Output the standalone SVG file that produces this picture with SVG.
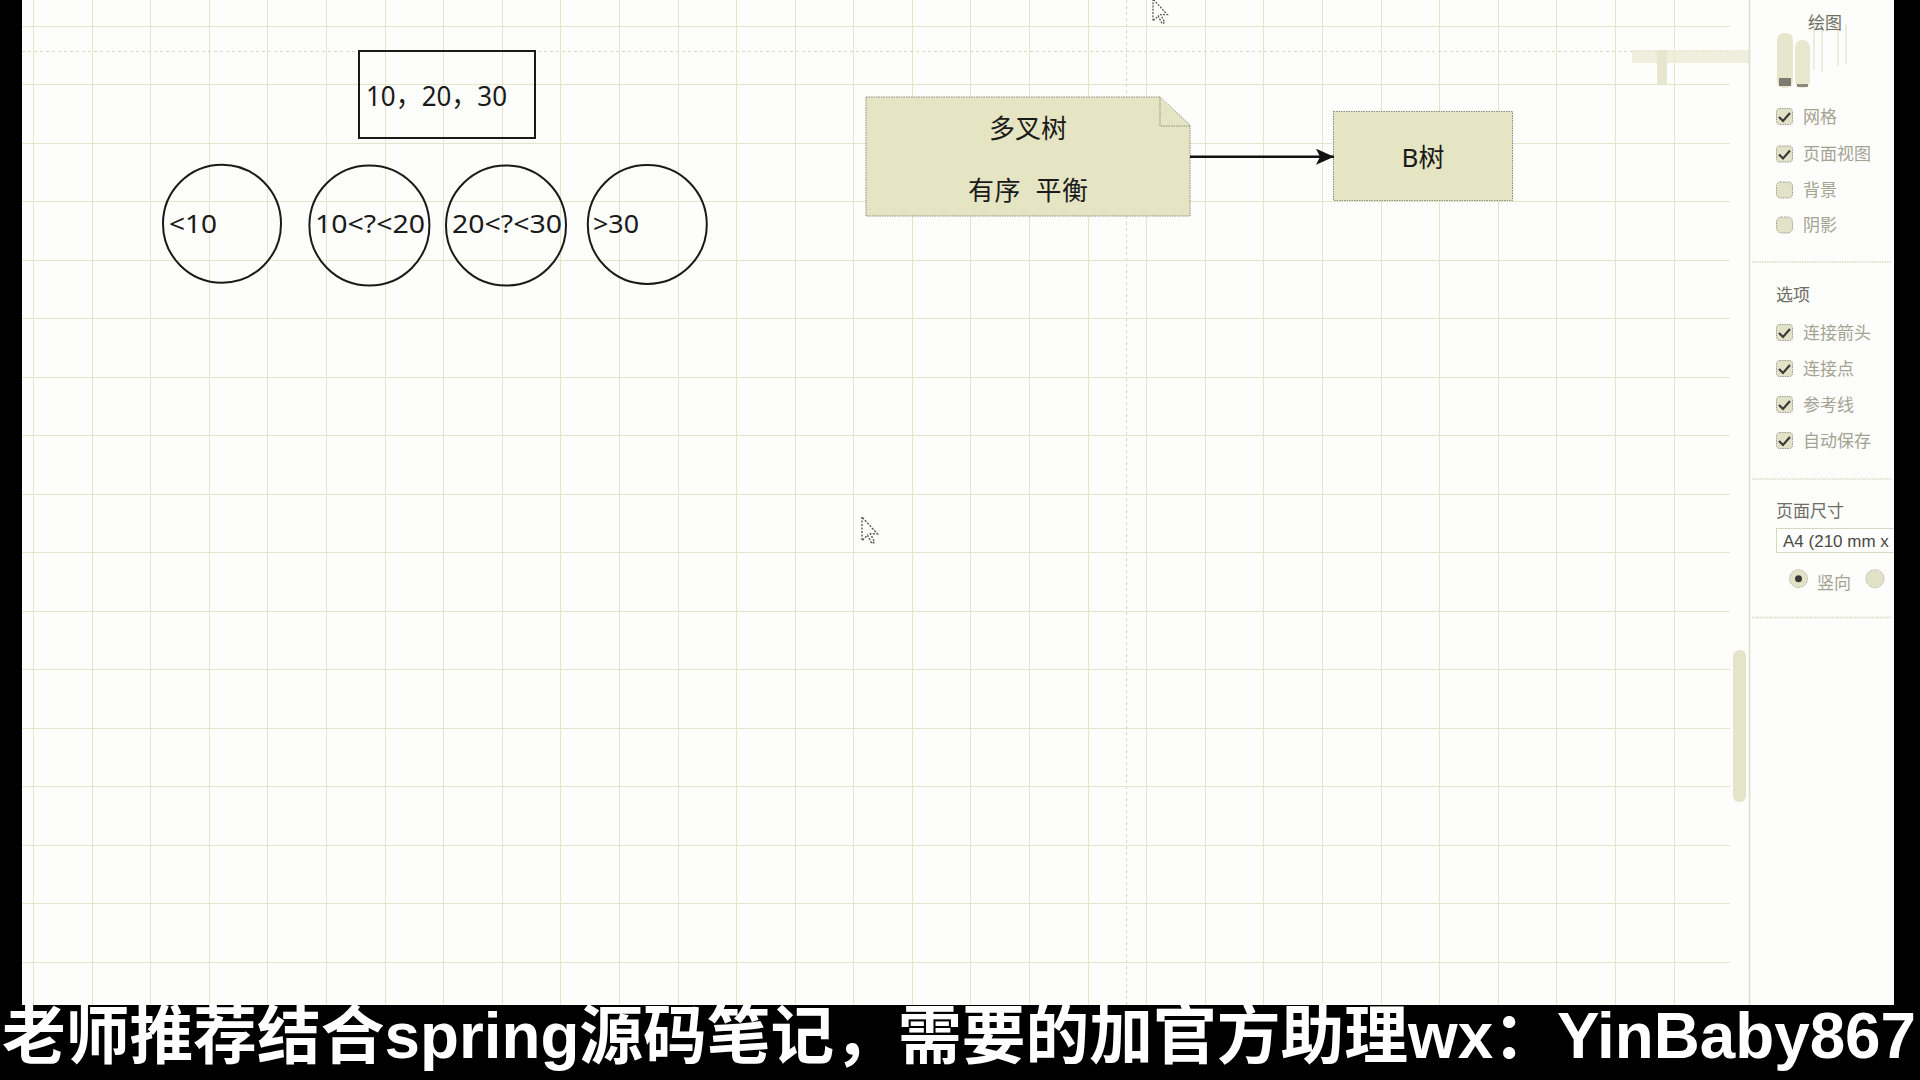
<svg xmlns="http://www.w3.org/2000/svg" width="1920" height="1080" viewBox="0 0 1920 1080">
<style>
.grid{stroke:#e4e4c8;stroke-width:1;fill:none}
.pb{stroke:#d9d9bf;stroke-width:1;stroke-dasharray:3 3;fill:none}
.shape{fill:none;stroke:#1a1a1a;stroke-width:2}
.lbl{font-family:"Noto Sans","Noto Sans CJK SC",sans-serif;fill:#1a1a1a}
.note{fill:#e5e5c3;stroke:#8a8a7a;stroke-width:1;stroke-dasharray:1.5 1}
.ptxt{font-family:"Noto Sans CJK SC",sans-serif;font-size:17px;fill:#a3a392}
.phead{font-family:"Noto Sans CJK SC",sans-serif;font-size:17px;fill:#6e6e66}
.cb{fill:#e2e2c8;stroke:#9a9a8a;stroke-width:1;stroke-dasharray:1.5 1}
.ck{fill:none;stroke:#3a3a36;stroke-width:2.2}
.sep{stroke:#dadac2;stroke-width:1.5;stroke-dasharray:1.5 1}
.cur{fill:#fff;stroke:#5a5a50;stroke-width:1;stroke-dasharray:1.5 1}
</style>
<defs>
<marker id="arr" markerWidth="20" markerHeight="16" refX="18" refY="8" orient="auto" markerUnits="userSpaceOnUse">
<path d="M0,0 L18,8 L0,16 L4,8 Z" fill="#111"/>
</marker>
</defs>
<rect x="0" y="0" width="1920" height="1080" fill="#fdfdfb"/>
<!-- grid -->
<path class="grid" d="M33.5 0V1005M92.5 0V1005M150.5 0V1005M209.5 0V1005M267.5 0V1005M326.5 0V1005M385.5 0V1005M443.5 0V1005M502.5 0V1005M560.5 0V1005M619.5 0V1005M678.5 0V1005M736.5 0V1005M795.5 0V1005M853.5 0V1005M912.5 0V1005M970.5 0V1005M1029.5 0V1005M1088.5 0V1005M1146.5 0V1005M1205.5 0V1005M1263.5 0V1005M1322.5 0V1005M1381.5 0V1005M1439.5 0V1005M1498.5 0V1005M1556.5 0V1005M1615.5 0V1005M1674.5 0V1005"/>
<path class="grid" d="M22 26.5H1730M22 84.5H1730M22 143.5H1730M22 201.5H1730M22 260.5H1730M22 318.5H1730M22 377.5H1730M22 435.5H1730M22 494.5H1730M22 552.5H1730M22 611.5H1730M22 669.5H1730M22 728.5H1730M22 786.5H1730M22 845.5H1730M22 903.5H1730M22 962.5H1730"/>
<path class="pb" d="M22 51.5H1730M1126.5 0V1005"/>
<!-- scrollbar -->
<rect x="1733" y="650" width="13" height="152" rx="6" fill="#e4e4cb"/>
<!-- ghost artifact -->
<g opacity="0.8">
<rect x="1632" y="50" width="118" height="13" fill="#ececd6"/>
<rect x="1657" y="50" width="10" height="35" fill="#e2e2c6"/>
</g>
<!-- nodes -->
<g id="node-keys">
<rect class="shape" x="359" y="51" width="176" height="87"/>
<text class="lbl" x="366" y="106" font-size="28" textLength="141" lengthAdjust="spacingAndGlyphs">10，20，30</text>
</g>
<g id="node-lt10">
<circle class="shape" cx="222" cy="223.7" r="59"/>
<text class="lbl" x="169" y="233" font-size="25" textLength="48" lengthAdjust="spacingAndGlyphs">&lt;10</text>
</g>
<g id="node-10-20">
<circle class="shape" cx="369.4" cy="225.5" r="60"/>
<text class="lbl" x="315" y="233" font-size="25" textLength="110" lengthAdjust="spacingAndGlyphs">10&lt;?&lt;20</text>
</g>
<g id="node-20-30">
<circle class="shape" cx="506" cy="225.5" r="60"/>
<text class="lbl" x="452" y="233" font-size="25" textLength="110" lengthAdjust="spacingAndGlyphs">20&lt;?&lt;30</text>
</g>
<g id="node-gt30">
<circle class="shape" cx="647.3" cy="224.5" r="59.5"/>
<text class="lbl" x="593" y="233" font-size="25" textLength="46" lengthAdjust="spacingAndGlyphs">&gt;30</text>
</g>
<g id="node-multiway">
<path class="note" d="M866 97H1160L1190 125V216H866Z"/>
<path class="note" d="M1160 97V126H1190"/>
<text class="lbl" x="1028" y="138" font-size="26" text-anchor="middle">多叉树</text>
<text class="lbl" x="1028" y="200" font-size="26" text-anchor="middle" textLength="120" lengthAdjust="spacing" style="white-space:pre">有序  平衡</text>
</g>
<g id="node-btree">
<rect class="note" x="1333.5" y="111.5" width="179" height="89"/>
<text class="lbl" x="1423" y="167" font-size="26" text-anchor="middle">B树</text>
</g>
<g id="connectors">
<line x1="1190" y1="156.7" x2="1334" y2="156.7" stroke="#111" stroke-width="2.5" marker-end="url(#arr)"/>
</g>
<!-- cursors -->
<path class="cur" d="M0,0 L0,17 L4,13 L7,19 L9,18 L6,12 L11,12 Z" transform="translate(1153,-1) scale(1.3)"/>
<path class="cur" d="M0,0 L0,17 L4,13 L7,19 L9,18 L6,12 L11,12 Z" transform="translate(862,517) scale(1.4)"/>
<!-- side panel -->
<g id="panel">
<rect x="1750" y="0" width="144" height="1005" fill="#fdfdfc"/>
<line x1="1749.5" y1="0" x2="1749.5" y2="1005" stroke="#dedec6" stroke-width="1.5"/>
<rect x="1777" y="33" width="16" height="55" rx="7" fill="#e6e6cc"/>
<rect x="1779" y="78" width="12" height="8" fill="#7c7c72"/>
<rect x="1795" y="40" width="15" height="48" rx="7" fill="#e8e8cf"/>
<rect x="1797" y="84" width="11" height="3" fill="#8a8a80"/>
<path d="M1814 22V70M1822 22V72M1838 22V66M1846 24V64" stroke="#ecece0" stroke-width="2"/>
<text class="phead" x="1808" y="29" font-size="18">绘图</text>
<rect class="cb" x="1776.5" y="108.5" width="16" height="16" rx="3"/>
<path class="ck" d="M1779 117l4 4l7-8"/>
<text class="ptxt" x="1803" y="123">网格</text>
<rect class="cb" x="1776.5" y="146" width="16" height="16" rx="3"/>
<path class="ck" d="M1779 154.5l4 4l7-8"/>
<text class="ptxt" x="1803" y="160">页面视图</text>
<rect class="cb" x="1776.5" y="182" width="16" height="16" rx="4"/>
<text class="ptxt" x="1803" y="196">背景</text>
<rect class="cb" x="1776.5" y="217" width="16" height="16" rx="5"/>
<text class="ptxt" x="1803" y="231">阴影</text>
<line class="sep" x1="1752" y1="262" x2="1892" y2="262"/>
<text class="phead" x="1776" y="301">选项</text>
<rect class="cb" x="1776.5" y="324.5" width="16" height="16" rx="3"/>
<path class="ck" d="M1779 333l4 4l7-8"/>
<text class="ptxt" x="1803" y="339">连接箭头</text>
<rect class="cb" x="1776.5" y="360.5" width="16" height="16" rx="3"/>
<path class="ck" d="M1779 369l4 4l7-8"/>
<text class="ptxt" x="1803" y="375">连接点</text>
<rect class="cb" x="1776.5" y="396.5" width="16" height="16" rx="3"/>
<path class="ck" d="M1779 405l4 4l7-8"/>
<text class="ptxt" x="1803" y="411">参考线</text>
<rect class="cb" x="1776.5" y="432.5" width="16" height="16" rx="3"/>
<path class="ck" d="M1779 441l4 4l7-8"/>
<text class="ptxt" x="1803" y="447">自动保存</text>
<line class="sep" x1="1752" y1="479" x2="1892" y2="479"/>
<text class="phead" x="1776" y="517">页面尺寸</text>
<rect x="1776.5" y="528.5" width="130" height="24" fill="#fff" stroke="#d8d8c0"/>
<text x="1783" y="547" font-family="Liberation Sans, Arial, sans-serif" font-size="17" fill="#4a4a44">A4 (210 mm x</text>
<circle cx="1798.5" cy="578.7" r="9" fill="#e2e2c8" stroke="#b0b09c" stroke-dasharray="1.5 1"/>
<circle cx="1798.5" cy="578.7" r="3.5" fill="#3a3a36"/>
<text class="ptxt" x="1817" y="589">竖向</text>
<circle cx="1875" cy="578.7" r="9" fill="#e2e2c8" stroke="#b0b09c" stroke-dasharray="1.5 1"/>
<line class="sep" x1="1752" y1="617.5" x2="1892" y2="617.5"/>
</g>
<!-- black borders and subtitle band -->
<rect x="0" y="0" width="22" height="1080" fill="#000"/>
<rect x="1894" y="0" width="26" height="1080" fill="#000"/>
<rect x="0" y="1005" width="1920" height="75" fill="#000"/>
<text x="2" y="1058" font-family="Liberation Sans, 'Noto Sans CJK SC', sans-serif" font-size="64" font-weight="700" fill="#fff" textLength="1914" lengthAdjust="spacingAndGlyphs">老师推荐结合spring源码笔记，需要的加官方助理wx：YinBaby867</text>
</svg>
